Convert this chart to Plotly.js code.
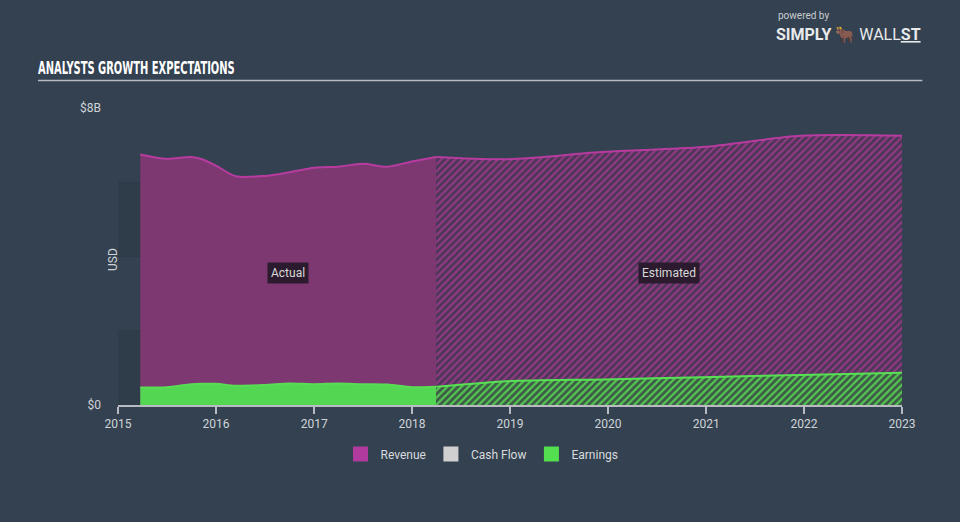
<!DOCTYPE html>
<html>
<head>
<meta charset="utf-8">
<script src="https://cdn.plot.ly/plotly-3.0.1.min.js"></script>
<style>
  html,body{margin:0;padding:0;background:#334150;}
  #chart{width:960px;height:522px;}
</style>
</head>
<body>
<div id="chart"></div>
<script>
// ---- data (USD billions) ----
const revActualDates = ['2015-03-25','2015-07-01','2015-10-01','2015-11-10','2016-01-01','2016-03-15','2016-07-01','2016-10-01','2017-01-01','2017-04-01','2017-07-01','2017-10-01','2018-01-01','2018-04-01'];
const revActual      = [6.75, 6.63, 6.68, 6.62, 6.45, 6.16, 6.17, 6.27, 6.39, 6.42, 6.50, 6.42, 6.56, 6.68];
const earnActual     = [0.47, 0.48, 0.56, 0.57, 0.57, 0.52, 0.54, 0.58, 0.56, 0.58, 0.56, 0.55, 0.48, 0.49];

const estDates   = ['2018-04-01','2018-12-20','2019-12-20','2020-12-20','2021-12-20','2023-01-01'];
const revEst     = [6.68, 6.62, 6.82, 6.95, 7.25, 7.25];
const earnEst    = [0.49, 0.64, 0.69, 0.75, 0.81, 0.87];

const legendNames  = ['Revenue','Cash Flow','Earnings'];
const legendColors = ['#b03a9e','#d0d0d0','#53e050'];

const yTickVals  = [0, 8];
const yTickText  = ['$0', '$8B'];
const gridVals   = [2, 4, 6];
const bands      = [[0,2],[4,6]];

const traces = [
  {x: revActualDates, y: revActual, type:'scatter', mode:'lines', fill:'tozeroy',
   line:{color:'#b83ba0', width:2, shape:'spline', smoothing:0.8}, fillcolor:'#7d3872',
   showlegend:false, hoverinfo:'skip'},
  {x: estDates, y: revEst, type:'scatter', mode:'lines', fill:'tozeroy',
   line:{color:'#b83ba0', width:2, shape:'spline', smoothing:0.8},
   fillpattern:{shape:'/', fgcolor:'#8f3a83', bgcolor:'#4d3657', size:5, solidity:0.45},
   showlegend:false, hoverinfo:'skip'},
  {x: revActualDates, y: earnActual, type:'scatter', mode:'lines', fill:'tozeroy',
   line:{color:'#58dd55', width:2, shape:'spline', smoothing:0.8}, fillcolor:'#53d651',
   showlegend:false, hoverinfo:'skip'},
  {x: estDates, y: earnEst, type:'scatter', mode:'lines', fill:'tozeroy',
   line:{color:'#58e055', width:2, shape:'spline', smoothing:0.8},
   fillpattern:{shape:'/', fgcolor:'#55c653', bgcolor:'#3d5a46', size:5, solidity:0.45},
   showlegend:false, hoverinfo:'skip'}
];
legendNames.forEach((n,i)=>{
  traces.push({x:[null], y:[null], type:'scatter', mode:'markers', name:n,
    marker:{symbol:'square', size:15, color:legendColors[i]}, hoverinfo:'skip'});
});
traces.push({x:[null], y:[null], yaxis:'y2', type:'scatter', mode:'markers', showlegend:false, hoverinfo:'skip'});

const shapes = bands.map(b=>({type:'rect', xref:'paper', yref:'y', x0:0, x1:1, y0:b[0], y1:b[1],
  fillcolor:'#2f3c4a', line:{width:0}, layer:'below'}));
shapes.push({type:'line', xref:'paper', yref:'paper', x0:-0.102, x1:1.026, y0:1.093, y1:1.093,
  line:{color:'#b8bcc2', width:1.5}});

const layout = {
  width:960, height:522,
  paper_bgcolor:'#334150', plot_bgcolor:'#334150',
  margin:{l:118, r:58, t:108, b:117},
  font:{family:'Roboto, "Open Sans", sans-serif', color:'#d0d4d8', size:12},
  title:{text:'<b>ANALYSTS GROWTH EXPECTATIONS</b>', x:38/960, xanchor:'left', y:1-68/522, yanchor:'middle',
    font:{family:'"DejaVu Sans", sans-serif', size:18, color:'#ffffff'}},
  xaxis:{type:'date', range:['2015-01-01','2023-01-01'], dtick:'M12', tickformat:'%Y',
    showgrid:false, zeroline:false, showline:true, linecolor:'#b8bcc2', linewidth:1.5,
    ticks:'outside', ticklen:7, tickcolor:'#b8bcc2', tickwidth:1.5,
    tickfont:{size:12, color:'#d0d4d8'}},
  yaxis:{range:[0,8], tickvals:yTickVals, ticktext:yTickText, showgrid:false, zeroline:false,
    showline:false, ticks:'', ticklabelstandoff:16,
    tickfont:{size:12, color:'#d0d4d8'}},
  yaxis2:{range:[0,8], overlaying:'y', tickvals:gridVals, showticklabels:false, showgrid:true,
    gridcolor:'#2e3a48', gridwidth:1, zeroline:false},
  showlegend:true,
  legend:{orientation:'h', x:(482-118)/784, xanchor:'center', y:-0.165, yanchor:'middle',
    font:{size:12, color:'#d8dadd'}, itemwidth:30, bgcolor:'rgba(0,0,0,0)', traceorder:'normal'},
  shapes:shapes,
  annotations:[
    {xref:'paper', yref:'paper', x:(104-118)/784, y:(405-260)/297, text:'USD', textangle:-90,
      showarrow:false, font:{size:12, color:'#d0d4d8'}},
    {x:'2016-09-25', y:3.55, text:'Actual', showarrow:false, bgcolor:'#2c1b2e', borderpad:3,
      font:{size:12, color:'#d8d8d8'}},
    {x:'2020-08-15', y:3.55, text:'Estimated', showarrow:false, bgcolor:'#2c1b2e', borderpad:3,
      font:{size:12, color:'#d8d8d8'}},
    {xref:'paper', yref:'paper', x:(776-118)/784, y:(405-15)/297, xanchor:'left', yanchor:'middle', showarrow:false,
      text:'powered by', font:{color:'#c8ccd0', size:10}},
    {xref:'paper', yref:'paper', x:(774-118)/784, y:(405-34)/297, xanchor:'left', yanchor:'middle', showarrow:false,
      text:'<b>SIMPLY</b> 🐂 WALL<b><u>ST</u></b>', font:{color:'#e8eaec', size:16}}
  ]
};

Plotly.newPlot('chart', traces, layout, {displayModeBar:false, staticPlot:true}).then(gd=>{
  const t = gd.querySelector('.gtitle');
  if (t) {
    const w = t.getBBox().width;
    const x = parseFloat(t.getAttribute('x')) || 38;
    const s = 197 / w;
    t.setAttribute('transform', `translate(${x},0) scale(${s},1) translate(${-x},0)`);
  }
});
</script>
</body>
</html>
